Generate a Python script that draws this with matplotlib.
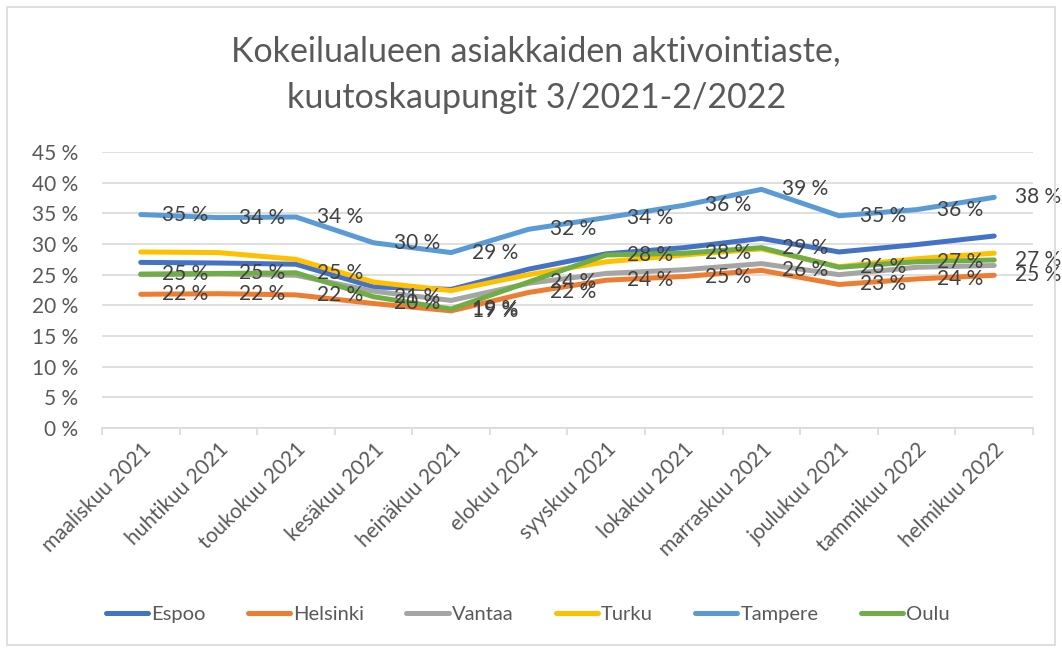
import matplotlib.pyplot as plt
from matplotlib.patches import Rectangle
from matplotlib.ticker import MultipleLocator, FuncFormatter

plt.rcParams['font.family'] = ['Lato', 'DejaVu Sans']

months = ['maaliskuu 2021', 'huhtikuu 2021', 'toukokuu 2021', 'kesäkuu 2021',
          'heinäkuu 2021', 'elokuu 2021', 'syyskuu 2021', 'lokakuu 2021',
          'marraskuu 2021', 'joulukuu 2021', 'tammikuu 2022', 'helmikuu 2022']

# values in percent
espoo    = [27.0, 26.9, 26.7, 23.0, 22.6, 25.9, 28.4, 29.4, 30.9, 28.7, 29.9, 31.3]
helsinki = [21.8, 21.9, 21.7, 20.3, 19.1, 22.1, 24.1, 24.7, 25.7, 23.4, 24.3, 24.9]
vantaa   = [25.0, 25.1, 24.9, 22.3, 20.8, 23.6, 25.2, 25.8, 26.8, 25.0, 26.2, 26.5]
turku    = [28.7, 28.6, 27.5, 23.8, 22.4, 25.0, 27.1, 28.2, 29.2, 26.3, 27.6, 28.5]
tampere  = [34.8, 34.3, 34.4, 30.2, 28.6, 32.4, 34.3, 36.3, 38.9, 34.6, 35.6, 37.6]
oulu     = [25.1, 25.2, 25.3, 21.4, 19.4, 23.8, 28.2, 28.5, 29.4, 26.2, 27.1, 27.4]

series = [('Espoo', espoo, '#4472C4', False),
          ('Helsinki', helsinki, '#ED7D31', True),
          ('Vantaa', vantaa, '#A5A5A5', False),
          ('Turku', turku, '#FFC000', False),
          ('Tampere', tampere, '#5B9BD5', True),
          ('Oulu', oulu, '#70AD47', True)]

fig = plt.figure(figsize=(10.62, 6.5), dpi=100)
ax = fig.add_axes([0.0960, 0.3415, 0.8767, 0.4247])

x = list(range(len(months)))
for name, vals, col, labelled in series:
    ax.plot(x, [v / 100 for v in vals], color=col, lw=3.6, label=name,
            solid_capstyle='round', solid_joinstyle='miter', zorder=3)

for name, vals, col, labelled in series:
    if not labelled:
        continue
    for xi, v in zip(x, vals):
        ax.annotate(f'{round(v):.0f} %', (xi, v / 100), xytext=(15, 0),
                    textcoords='offset points', ha='left', va='center',
                    fontsize=15, color='#404040', zorder=5)

ax.set_xlim(-0.5, len(months) - 0.5)
ax.set_ylim(0, 0.45)
ax.yaxis.set_major_locator(MultipleLocator(0.05))
ax.yaxis.set_major_formatter(FuncFormatter(lambda v, p: f'{v * 100:.0f} %'))
ax.grid(axis='y', color='#d9d9d9', lw=1.2)
ax.set_axisbelow(True)
for s in ['top', 'right', 'left']:
    ax.spines[s].set_visible(False)
ax.spines['bottom'].set_color('#d9d9d9')
ax.spines['bottom'].set_linewidth(1.2)

ax.set_xticks([i - 0.5 for i in range(len(months) + 1)], minor=False)
ax.set_xticklabels([])
ax.tick_params(axis='x', which='major', length=5, color='#d9d9d9', width=1.2)
ax.set_xticks(x, minor=True)
ax.set_xticklabels(months, minor=True, rotation=45, ha='right',
                   rotation_mode='anchor', fontsize=15, color='#595959')
ax.tick_params(axis='x', which='minor', length=0, pad=8)
ax.tick_params(axis='y', length=0, labelsize=15, labelcolor='#595959', pad=17)

fig.text(0.505, 0.885, 'Kokeilualueen asiakkaiden aktivointiaste,\nkuutoskaupungit 3/2021-2/2022',
         ha='center', va='center', fontsize=24.5, color='#595959', linespacing=1.55)

leg = fig.legend(loc='center', bbox_to_anchor=(0.497, 0.055), ncol=6, frameon=False,
                 fontsize=14.5, handlelength=2.1, handletextpad=0.15, columnspacing=2.1)
for t in leg.get_texts():
    t.set_color('#595959')

fig.patches.append(Rectangle((0.0066, 0.008), 0.987, 0.981, transform=fig.transFigure,
                             fill=False, edgecolor='#d9d9d9', lw=1.2))

fig.savefig('out.png', dpi=100)
